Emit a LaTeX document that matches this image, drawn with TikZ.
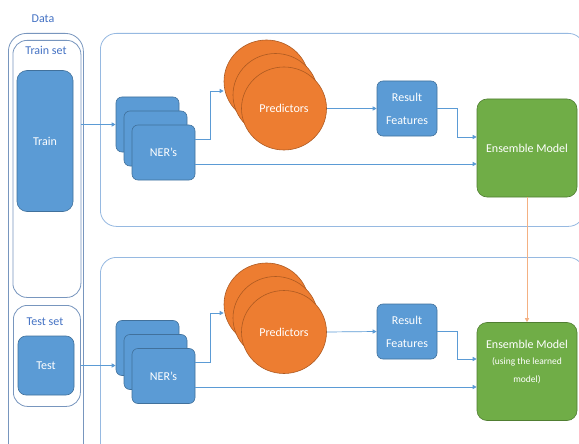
\documentclass[tikz,border=0pt]{standalone}
\usepackage{fontspec}
\setmainfont{Carlito}
\usepackage{tikz}
\usetikzlibrary{shapes.geometric, arrows.meta, positioning, calc}
\definecolor{colNer}{RGB}{91,155,213}
\definecolor{colNerLine}{RGB}{65,113,156}
\definecolor{colPred}{RGB}{237,125,49}
\definecolor{colPredLine}{RGB}{174,90,33}
\definecolor{colEns}{RGB}{112,173,71}
\definecolor{colEnsLine}{RGB}{80,126,50}
\definecolor{colPanel}{RGB}{150,185,225}
\definecolor{colData}{RGB}{120,150,190}
\definecolor{colTitle}{RGB}{68,114,196}
\definecolor{colArrow}{RGB}{91,155,213}
\definecolor{colLearn}{RGB}{244,177,131}
\tikzset{
  panel/.style={
    rectangle, rounded corners=16pt,
    draw=colPanel, line width=0.8pt,
    anchor=north west, inner sep=0pt
  },
  setBox/.style={panel, draw=colData, rounded corners=14pt},
  blueBox/.style={
    rectangle, rounded corners=6pt,
    draw=colNerLine, fill=colNer, line width=0.6pt,
    text=white, align=center, inner sep=0pt,
    font=\fontsize{12}{23}\selectfont
  },
  nerBox/.style={blueBox, minimum width=63pt, minimum height=55pt},
  predBox/.style={
    ellipse, draw=colPredLine, fill=colPred, line width=0.6pt,
    minimum width=85pt, minimum height=83pt, inner sep=0pt,
    text=white, font=\fontsize{12}{14}\selectfont
  },
  ensBox/.style={
    rectangle, rounded corners=10pt,
    draw=colEnsLine, fill=colEns, line width=0.6pt,
    minimum width=100pt, minimum height=98pt, inner sep=0pt,
    text=white, align=center, font=\fontsize{12}{20}\selectfont
  },
  tag/.style={text=colTitle, font=\fontsize{12}{14}\selectfont, inner sep=0pt},
  arr/.style={
    -{Triangle[length=4pt, width=4pt]}, line width=0.7pt, color=colArrow
  },
  learnArr/.style={
    -{Triangle[length=4pt, width=4pt]}, line width=0.7pt, color=colLearn
  }
}

\begin{document}
\begin{tikzpicture}[x=1pt, y=-1pt]

  \useasboundingbox (0,0) rectangle (579,444);
  \fill[white] (0,0) rectangle (579,444);
  \clip (0,0) rectangle (579,444);

  % data column
  \node[tag] (datatitle) at (43,19) {Data};
  \node[setBox, draw=colData, rounded corners=18pt, minimum width=75pt, minimum height=440pt] (databox) at (8,33) {};
  \node[setBox, minimum width=68pt, minimum height=257pt] (trainset) at (12.5,40) {};
  \node[tag] (traintitle) at (46,50) {Train set};
  \node[blueBox, rounded corners=10pt, minimum width=56pt, minimum height=141pt] (train) at (45,141) {Train};
  \node[setBox, minimum width=67pt, minimum height=101pt] (testset) at (13,305) {};
  \node[tag] (testtitle) at (45,322) {Test set};
  \node[blueBox, rounded corners=8pt, minimum width=56pt, minimum height=59pt] (test) at (46,365.5) {Test};

  % panels
  \node[panel, minimum width=484pt, minimum height=193pt] (trainpanel) at (100,33) {};
  \node[panel, minimum width=484pt, minimum height=210pt] (testpanel) at (100,257) {};

  % training row
  \node[nerBox] (ner1a) at (147.5,124.5) {};
  \node[nerBox] (ner1b) at (155.5,138.5) {};
  \node[nerBox] (ner1c) at (163.5,152.5) {NER’s};
  \node[predBox] (pred1a) at (266.5,81.5) {};
  \node[predBox] (pred1b) at (275.5,95) {};
  \node[predBox] (pred1c) at (284,108.5) {Predictors};
  \node[blueBox, minimum width=60pt, minimum height=55pt] (res1) at (407,108.5) {Result\\Features};
  \node[ensBox] (ens1) at (527,148) {Ensemble Model};

  % testing row
  \node[nerBox] (ner2a) at (147.5,348) {};
  \node[nerBox] (ner2b) at (155.5,362) {};
  \node[nerBox] (ner2c) at (163.5,376) {NER’s};
  \node[predBox] (pred2a) at (266.5,304.5) {};
  \node[predBox] (pred2b) at (275.5,318) {};
  \node[predBox] (pred2c) at (284,332) {Predictors};
  \node[blueBox, minimum width=60pt, minimum height=55pt] (res2) at (407,331.5) {Result\\Features};
  \node[ensBox] (ens2) at (527,371.5) {Ensemble Model\\[-4pt]{\fontsize{9.5}{20}\selectfont (using the learned}\\[-2pt]{\fontsize{9.5}{20}\selectfont model)}\\ \mbox{}};

  % train set feeds the NERs
  \draw[arr] (trainset.east |- ner1a.west) -- (ner1a.west);

  % NERs -> predictors
  \draw[arr] ([yshift=13.5pt]ner1c.east) -- ++(15pt,0) |- ([yshift=-9.5pt]pred1a.west);

  % predictors -> result features
  \draw[arr] (pred1c.east) -- (res1.west);

  % result features -> ensemble
  \draw[arr] (res1.east) -- ++(20pt,0) |- ([yshift=11pt]ens1.west);

  % NERs -> ensemble
  \draw[arr] ([yshift=-11.5pt]ner1c.east) -- ([yshift=-16pt]ens1.west);

  % learned model handed down
  \draw[learnArr] (ens1.south) -- (ens2.north);

  % test set feeds the NERs
  \draw[arr] (testset.east |- test.east) -- (test.east -| ner2a.west);

  % NERs -> predictors
  \draw[arr] ([yshift=14pt]ner2c.east) -- ++(15pt,0) |- ([yshift=-8.5pt]pred2a.west);

  % predictors -> result features
  \draw[arr] (pred2c.east) -- (res2.west);

  % result features -> ensemble
  \draw[arr] (res2.east) -- ++(20pt,0) |- ([yshift=12.5pt]ens2.west);

  % NERs -> ensemble
  \draw[arr] ([yshift=-11pt]ner2c.east) -- ([yshift=-15.5pt]ens2.west);

\end{tikzpicture}
\end{document}
